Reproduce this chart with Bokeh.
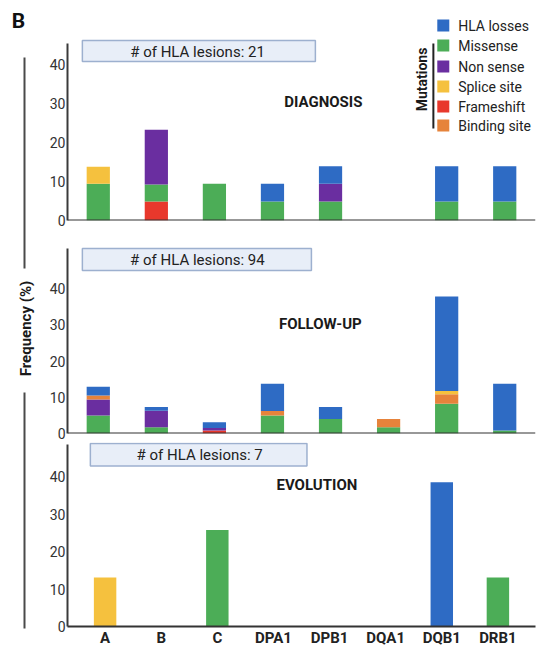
import math
from bokeh.plotting import figure
from bokeh.layouts import row, column
from bokeh.models import FactorRange, Range1d, FixedTicker, BoxAnnotation, Label, ColumnDataSource, Span
from bokeh.core.properties import value
from bokeh.embed import file_html
from bokeh.resources import INLINE

FONT = "Roboto"

# ---------------- data ----------------
categories = ["A", "B", "C", "DPA1", "DPB1", "DQA1", "DQB1", "DRB1"]
legend_series = ["HLA losses", "Missense", "Non sense", "Splice site", "Frameshift", "Binding site"]
legend_colors = ["#2e6bc4", "#4cad57", "#6a2ea0", "#f5c13e", "#e8382c", "#e6833b"]
stack_order = ["Frameshift", "Missense", "Non sense", "Binding site", "Splice site", "HLA losses"]

# DIAGNOSIS (% of lesions)
diag_frameshift = [0, 4.9, 0, 0, 0, 0, 0, 0]
diag_missense = [9.4, 4.3, 9.4, 4.9, 4.9, 0, 4.9, 4.9]
diag_nonsense = [0, 14.1, 0, 0, 4.5, 0, 0, 0]
diag_binding = [0, 0, 0, 0, 0, 0, 0, 0]
diag_splice = [4.4, 0, 0, 0, 0, 0, 0, 0]
diag_losses = [0, 0, 0, 4.5, 4.5, 0, 9.0, 9.0]

# FOLLOW-UP
fu_frameshift = [0, 0, 0.8, 0, 0, 0, 0, 0]
fu_missense = [5.0, 1.7, 0, 5.0, 4.0, 1.7, 8.2, 0.8]
fu_nonsense = [4.4, 4.6, 0.7, 0, 0, 0, 0, 0]
fu_binding = [1.1, 0, 0, 1.2, 0, 2.3, 2.6, 0]
fu_splice = [0, 0, 0, 0, 0, 0, 0.9, 0]
fu_losses = [2.4, 1.0, 1.6, 7.5, 3.3, 0, 26.1, 12.9]

# EVOLUTION
ev_frameshift = [0, 0, 0, 0, 0, 0, 0, 0]
ev_missense = [0, 0, 25.8, 0, 0, 0, 0, 13.1]
ev_nonsense = [0, 0, 0, 0, 0, 0, 0, 0]
ev_binding = [0, 0, 0, 0, 0, 0, 0, 0]
ev_splice = [13.1, 0, 0, 0, 0, 0, 0, 0]
ev_losses = [0, 0, 0, 0, 0, 0, 38.6, 0]

panel_titles = ["DIAGNOSIS", "FOLLOW-UP", "EVOLUTION"]
lesion_counts = ["# of HLA lesions:  21", "# of HLA lesions: 94", "# of HLA lesions: 7"]
y_ticks = [0, 10, 20, 30, 40]

color_of = dict(zip(legend_series, legend_colors))

panel_data = [
    dict(zip(stack_order, [diag_frameshift, diag_missense, diag_nonsense, diag_binding, diag_splice, diag_losses])),
    dict(zip(stack_order, [fu_frameshift, fu_missense, fu_nonsense, fu_binding, fu_splice, fu_losses])),
    dict(zip(stack_order, [ev_frameshift, ev_missense, ev_nonsense, ev_binding, ev_splice, ev_losses])),
]

# ---------------- layout geometry (canvas pixels) ----------------
LEFT_W = 36
geo = [
    dict(top=0, fbottom=220, height=232, fleft=67, fright=539, pad=0.03, scale=3.9, axtop=43,
         box=(82, 317, 40, 61), boxtext=(200, 51.5), title=(325, 101)),
    dict(top=232, fbottom=433, height=210, fleft=67, fright=539, pad=0.03, scale=3.625, axtop=248,
         box=(82, 313, 248, 270), boxtext=(198, 259.5), title=(322, 323)),
    dict(top=442, fbottom=629, height=207, fleft=64, fright=535, pad=0.17, scale=3.8, axtop=444,
         box=(87, 305, 443, 466), boxtext=(197, 455), title=(315, 485)),
]


def make_panel(i):
    g = geo[i]
    n = len(categories)
    span = n + 2 * g["pad"]
    fw = g["fright"] - g["fleft"]

    def fx(px):
        return -g["pad"] + (px - g["fleft"]) / fw * span

    def fy(py):
        return (g["fbottom"] - py) / g["scale"]

    border_left = g["fleft"] - LEFT_W
    border_right = 539 - g["fright"]
    border_bottom = g["height"] - (g["fbottom"] - g["top"])
    p = figure(
        x_range=FactorRange(*categories, range_padding=g["pad"], range_padding_units="absolute"),
        y_range=Range1d(0, (g["fbottom"] - g["top"]) / g["scale"]),
        width=539 - LEFT_W, height=g["height"],
        min_border_left=border_left, min_border_right=border_right,
        min_border_top=0, min_border_bottom=border_bottom,
        output_backend="svg", toolbar_location=None,
    )
    p.outline_line_color = None
    p.grid.grid_line_color = None
    p.background_fill_color = "white"

    data = {"cat": categories}
    data.update(panel_data[i])
    src = ColumnDataSource(data)
    p.vbar_stack(stack_order, x="cat", width=0.4, source=src,
                 fill_color=[color_of[s] for s in stack_order], line_color=None)

    # axes
    p.yaxis.ticker = FixedTicker(ticks=y_ticks)
    p.yaxis.bounds = (0, fy(g["axtop"]))
    p.yaxis.major_tick_out = 0
    p.yaxis.major_tick_in = 0
    p.yaxis.minor_tick_out = 0
    p.yaxis.minor_tick_in = 0
    p.yaxis.axis_line_width = 2
    p.yaxis.axis_line_color = "#3a3a3a"
    p.yaxis.major_label_standoff = 2
    p.yaxis.major_label_text_font = FONT
    p.yaxis.major_label_text_font_size = "14px"
    p.yaxis.major_label_text_color = "#333333"

    if i < 2:
        p.xaxis.visible = False
        p.add_layout(Span(location=0, dimension="width", line_width=2, line_color="#333333"))
    else:
        p.xaxis.axis_line_width = 2
        p.xaxis.axis_line_color = "#333333"
        p.xaxis.major_tick_out = 0
        p.xaxis.major_tick_in = 0
        p.xaxis.minor_tick_out = 0
        p.xaxis.major_label_standoff = 2
        p.xaxis.major_label_text_font = FONT
        p.xaxis.major_label_text_font_size = "15px"
        p.xaxis.major_label_text_font_style = "bold"
        p.xaxis.major_label_text_color = "#222222"

    # lesion-count box
    l, r, t, b = g["box"]
    p.add_layout(BoxAnnotation(left=fx(l), right=fx(r), top=fy(t), bottom=fy(b),
                               fill_color="#e8eef8", fill_alpha=1.0,
                               line_color="#9db0cf", line_alpha=1.0, line_width=1.5))
    tx, ty = g["boxtext"]
    p.add_layout(Label(x=fx(tx), y=fy(ty), text=lesion_counts[i], text_align="center",
                       text_baseline="middle", text_font=FONT, text_font_size="15px",
                       text_color="#222222"))
    # panel title
    hx, hy = g["title"]
    p.add_layout(Label(x=fx(hx), y=fy(hy), text=panel_titles[i], text_align="center",
                       text_baseline="middle", text_font=FONT, text_font_size="15px",
                       text_font_style="bold", text_color="#1a1a1a"))

    if i == 0:
        leg_y = [25, 45, 66, 86, 106, 125]
        p.scatter(x=[fx(446)] * len(legend_series), y=[fy(v) for v in leg_y], marker="square",
                  size=12, fill_color=legend_colors, line_color=None)
        for name, yy in zip(legend_series, leg_y):
            p.add_layout(Label(x=fx(461), y=fy(yy), text=name, text_align="left",
                               text_baseline="middle", text_font=FONT, text_font_size="14px",
                               text_color="#222222"))
        p.segment(x0=[fx(436)], y0=[fy(43)], x1=[fx(436)], y1=[fy(128)],
                  line_width=2, line_color="#222222")
        p.add_layout(Label(x=fx(425), y=fy(79), text="Mutations", angle=math.pi / 2,
                           text_align="center", text_baseline="middle", text_font=FONT,
                           text_font_size="14px", text_font_style="bold", text_color="#1a1a1a"))
    return p


panels = [make_panel(i) for i in range(3)]

# left strip: panel letter, shared y label and bracket line
H = 649
lf = figure(width=LEFT_W, height=H, x_range=Range1d(0, LEFT_W), y_range=Range1d(0, H),
            min_border=0, output_backend="svg", toolbar_location=None)
lf.axis.visible = False
lf.grid.grid_line_color = None
lf.outline_line_color = None
lf.segment(x0=[24, 24], y0=[H - 57, H - 392], x1=[24, 24], y1=[H - 268, H - 628],
           line_width=2, line_color="#4a4a4a")
lf.text(x=[25], y=[H - 328], text=["Frequency (%)"], angle=math.pi / 2, text_align="center",
        text_baseline="middle", text_font=value(FONT), text_font_size="15px",
        text_font_style="bold", text_color="#1a1a1a")
lf.text(x=[18], y=[H - 20], text=["B"], text_align="center", text_baseline="middle",
        text_font=value(FONT), text_font_size="21px", text_font_style="bold",
        text_color="#111111")

layout = row(lf, column(*panels, spacing=0), spacing=0)

open("out.html", "w").write(file_html(layout, INLINE))
